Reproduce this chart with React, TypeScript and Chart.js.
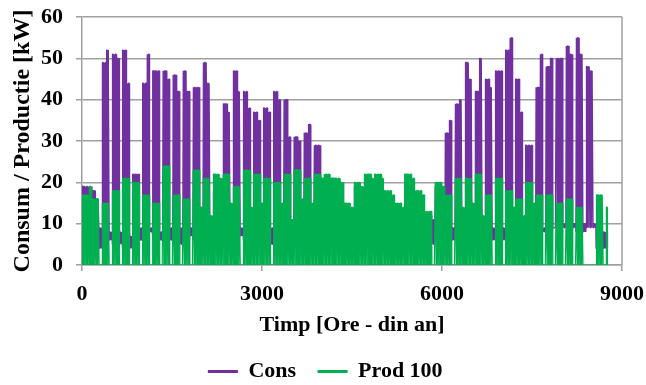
import { useEffect, useRef } from "react";
import { Chart, registerables } from "chart.js";

Chart.register(...registerables);

// Weekly readings over one year: 52 full weeks plus the closing day (index 52).
// Weekdays are days 0-4 of each week (early: 0-2, late: 3-4), the weekend days 5-6.
const consEarlyWeekPeak = [19, 18, 49, 51, 52, 22, 44, 47, 47, 46, 47, 43, 49, 18, 39, 47, 42, 37, 38, 42, 40, 31, 32, 29, 20, 20, 14, 19, 20, 20, 17, 14, 20, 17, 12, 19, 32, 39, 49, 42, 45, 47, 52, 45, 29, 43, 48, 50, 53, 55, 48, 9, 8];
const consLateWeekPeak = [19, 16, 52, 50, 44, 22, 51, 47, 45, 42, 42, 43, 44, 18, 37, 42, 38, 35, 37, 40, 31, 30, 34, 29, 20, 20, 14, 19, 20, 20, 17, 14, 20, 17, 12, 19, 35, 40, 45, 50, 43, 47, 55, 37, 29, 51, 50, 50, 51, 51, 47, 9, 8];
const consWeekendPeak = [19, 9, 8, 8, 7, 9, 9, 8, 9, 9, 9, 9, 10, 12, 10, 9, 10, 10, 9, 11, 11, 12, 12, 12, 12, 12, 12, 12, 12, 12, 12, 12, 12, 12, 11, 12, 9, 10, 10, 10, 9, 9, 10, 10, 10, 9, 9, 10, 10, 10, 10, 8, 8];
const consNightLevel = [4, 4, 6, 5, 4, 6, 8, 6, 6, 5, 7, 6, 6, 5, 6, 7, 6, 6, 5, 6, 6, 6, 6, 6, 6, 6, 6, 6, 6, 6, 6, 6, 6, 6, 5, 6, 6, 7, 6, 7, 6, 6, 7, 6, 6, 8, 9, 9, 9, 8, 9, 4, 4];
const prodWeekdayPeak = [17, 16, 15, 18, 21, 20, 17, 15, 24, 17, 16, 23, 21, 22, 22, 19, 23, 22, 21, 20, 22, 23, 21, 22, 22, 21, 15, 20, 22, 22, 18, 15, 22, 18, 13, 20, 17, 21, 21, 22, 17, 21, 18, 16, 20, 17, 17, 15, 16, 14, 0, 17, 14];
const prodWeekendPeak = [19, 0, 0, 0, 0, 0, 0, 0, 0, 0, 0, 14, 12, 21, 15, 0, 14, 15, 0, 15, 11, 16, 15, 21, 21, 20, 14, 19, 21, 21, 17, 14, 21, 17, 0, 19, 0, 14, 15, 12, 0, 0, 14, 12, 15, 0, 0, 0, 0, 0, 0, 0, 0];

// Hours of the day at which readings are plotted: night, morning, evening, night.
const readingHours = [0, 7, 17, 22];
const xTickValues = [0, 3000, 6000, 9000];
const DAYS_IN_YEAR = 365;

const PURPLE = "#7030A0";
const GREEN = "#00B050";
const GRID = "#a0a0a0";
const FONT_FAMILY = "'Liberation Serif', 'Times New Roman', serif";

type Pt = { x: number; y: number };

function yearProfile(early: number[], late: number[], weekend: number[], night: number[] | null): Pt[] {
  const pts: Pt[] = [];
  for (let day = 0; day < DAYS_IN_YEAR; day++) {
    const w = Math.floor(day / 7);
    const dow = day % 7;
    const peak = dow >= 5 ? weekend[w] : dow >= 3 ? late[w] : early[w];
    const low = night ? night[w] : 0;
    const levels = [low, peak, peak, low];
    readingHours.forEach((h, i) => pts.push({ x: day * 24 + h, y: levels[i] }));
  }
  return pts;
}

// Right-hand edge of the plot area.
const plotFrame = {
  id: "plotFrame",
  beforeDatasetsDraw(chart: Chart) {
    const { ctx, chartArea: a } = chart;
    ctx.save();
    ctx.strokeStyle = GRID;
    ctx.lineWidth = 1.5;
    ctx.beginPath();
    ctx.moveTo(a.right, a.top);
    ctx.lineTo(a.right, a.bottom);
    ctx.stroke();
    ctx.restore();
  },
};

export default function App() {
  const ref = useRef<HTMLCanvasElement>(null);

  useEffect(() => {
    document.body.style.margin = "0";
    const font = { family: FONT_FAMILY, size: 22, weight: "bold" as const };
    const titleFont = { family: FONT_FAMILY, size: 24, weight: "bold" as const };
    const chart = new Chart(ref.current!, {
      type: "line",
      data: {
        datasets: [
          {
            label: "Cons",
            data: yearProfile(consEarlyWeekPeak, consLateWeekPeak, consWeekendPeak, consNightLevel),
            borderColor: PURPLE,
            backgroundColor: PURPLE,
            borderWidth: 1.2,
            borderJoinStyle: "bevel",
            pointRadius: 0,
            order: 2,
          },
          {
            label: "Prod 100",
            data: yearProfile(prodWeekdayPeak, prodWeekdayPeak, prodWeekendPeak, null),
            borderColor: GREEN,
            backgroundColor: GREEN,
            borderWidth: 1.2,
            borderJoinStyle: "bevel",
            pointRadius: 0,
            order: 1,
          },
        ],
      },
      options: {
        responsive: false,
        animation: false,
        layout: { padding: { top: 17, left: 29, right: 24, bottom: -7.5 } },
        scales: {
          x: {
            type: "linear",
            min: 0,
            max: 9000,
            afterBuildTicks: (s: any) => {
              s.ticks = xTickValues.map((v) => ({ value: v }));
            },
            afterFit: (s: any) => {
              s.height = 73.5;
              s.paddingLeft = 0;
              s.paddingRight = 0;
            },
            ticks: { font, color: "#000", maxRotation: 0, padding: 10, callback: (v: any) => String(v) },
            grid: { drawOnChartArea: false, drawTicks: true, tickLength: 6, color: GRID, lineWidth: 1.5 },
            border: { color: GRID, width: 1.5 },
            title: {
              display: true,
              text: "Timp [Ore - din an]",
              font,
              color: "#000",
              padding: { top: 0, bottom: 0 },
            },
          },
          y: {
            min: 0,
            max: 60,
            afterFit: (s: any) => {
              s.width = 53;
              s.paddingTop = 0;
              s.paddingBottom = 0;
            },
            ticks: { stepSize: 10, font, color: "#000", padding: 13 },
            grid: { color: GRID, lineWidth: 1.5, tickLength: 6 },
            border: { color: GRID, width: 1.5 },
            title: {
              display: true,
              text: "Consum / Productie [kW]",
              font: titleFont,
              color: "#000",
              padding: { top: -20.4, bottom: 0 },
            },
          },
        },
        plugins: {
          tooltip: { enabled: false },
          legend: {
            position: "bottom",
            labels: {
              font,
              color: "#000",
              boxWidth: 29,
              boxHeight: 2,
              padding: 22,
              sort: (a: any, b: any) => a.datasetIndex - b.datasetIndex,
            },
          },
        },
      },
      plugins: [plotFrame],
    });
    return () => chart.destroy();
  }, []);

  return (
    <div style={{ width: 646, height: 385 }}>
      <canvas ref={ref} width={646} height={385} style={{ display: "block" }} />
    </div>
  );
}
